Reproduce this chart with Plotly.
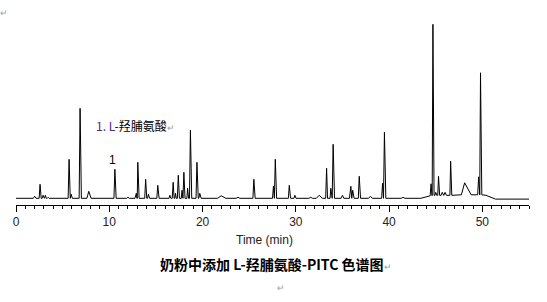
import plotly.graph_objects as go

# ---- data (time in min, signal in arbitrary units above baseline)
peak_time = [2.0, 2.58, 2.9, 3.15, 3.45, 5.69, 5.92, 6.87, 7.8, 10.6, 12.0, 12.9, 13.06,
             13.9, 14.2, 15.2, 16.5, 16.85, 17.1, 17.4, 17.8, 18.0, 18.4, 18.7, 19.4, 19.7,
             22.0, 23.8, 25.5, 27.6, 27.8, 29.3, 29.9, 31.6, 32.5, 33.3, 33.75, 34.0,
             35.0, 35.9, 36.1, 36.8, 38.0, 39.3, 39.5, 41.5, 44.5, 44.7, 45.0, 45.3,
             45.7, 46.0, 46.6, 48.1, 49.6, 49.8]
peak_height = [2, 14, 3, 3, 1, 39, 4, 90, 7, 29, 1, 5, 36,
               19, 4, 13, 3, 16, 5, 23, 8, 26, 10, 68, 36, 5,
               2.5, 1, 19, 12, 39, 13, 3, 1, 3, 30, 10, 54,
               3, 12, 8, 22, 2, 15, 66, 1, 12, 171, 3, 19,
               3, 3, 34, 12, 18, 122]
peak_left = [0.15, 0.1, 0.1, 0.1, 0.1, 0.1, 0.1, 0.1, 0.2, 0.1, 0.15, 0.15, 0.1,
             0.1, 0.1, 0.1, 0.1, 0.1, 0.08, 0.1, 0.08, 0.1, 0.08, 0.1, 0.1, 0.1,
             0.4, 0.2, 0.1, 0.1, 0.1, 0.1, 0.1, 0.2, 0.3, 0.1, 0.08, 0.1,
             0.15, 0.15, 0.1, 0.1, 0.2, 0.1, 0.1, 0.2, 0.1, 0.08, 0.08, 0.08,
             0.12, 0.12, 0.08, 0.35, 0.1, 0.08]
peak_right = [0.15, 0.12, 0.1, 0.1, 0.1, 0.12, 0.12, 0.14, 0.25, 0.14, 0.15, 0.1, 0.14,
              0.12, 0.12, 0.14, 0.1, 0.1, 0.08, 0.12, 0.1, 0.12, 0.1, 0.14, 0.14, 0.15,
              0.5, 0.2, 0.14, 0.1, 0.14, 0.14, 0.12, 0.2, 0.35, 0.1, 0.1, 0.15,
              0.15, 0.1, 0.15, 0.14, 0.2, 0.1, 0.15, 0.2, 0.1, 0.12, 0.1, 0.12,
              0.15, 0.15, 0.12, 0.7, 0.1, 0.14]
peak_base = [0, 0, 0, 0, 0, 0, 0, 0, 0, 0, 0, 0, 0,
             0, 0, 0, 0, 0, 0, 0, 0, 0, 0, 0, 0, 0,
             0, 0, 0, 0, 0, 0, 0, 0, 0, 0, 0, 0,
             0, 0, 0, 0, 0, 0, 0, 0, 2.5, 3, 3, 3,
             3, 3, 3, 3.5, 3.5, 3.5]
baseline_time = [0.0, 43.4, 44.3, 47.4, 49.2, 50.4, 51.4, 55.0]
baseline_value = [0.0, 0.0, 2.5, 3.0, 3.5, 3.0, -0.8, -0.8]

x_ticks = [0, 10, 20, 30, 40, 50]

# ---- assemble the trace from the peak table and baseline knots
pts = []
for t, v in zip(baseline_time, baseline_value):
    pts.append((t, v))
for t, h, wl, wr, b in zip(peak_time, peak_height, peak_left, peak_right, peak_base):
    pts.append((t - wl, b))
    pts.append((t, b + h))
    pts.append((t + wr, b))
pts.sort(key=lambda p: p[0])
xs = [p[0] for p in pts]
ys = [p[1] for p in pts]

W, H = 547, 302
ML, MR, MT, MB = 16, 18, 20, 97
pw, ph = W - ML - MR, H - MT - MB


def px(x):
    return (x - ML) / pw


def py(y):
    return (H - MB - y) / ph


fig = go.Figure()
fig.add_trace(go.Scatter(x=xs, y=ys, mode="lines",
                         line=dict(color="black", width=1), hoverinfo="skip",
                         showlegend=False))

font_lat = "Liberation Sans, Arial, sans-serif"
font_cjk = "Noto Sans CJK SC, Liberation Sans, sans-serif"

annos = [
    dict(x=px(94), y=py(126), xanchor="left", yanchor="middle",
         text="<span style='color:#4a2a7a'>1. L</span>-羟脯氨酸<span style='color:#a0a0a0;font-size:9px'>↵</span>",
         font=dict(family=font_cjk, size=12, color="black")),
    dict(x=px(112.5), y=py(160), xanchor="center", yanchor="middle", text="1",
         font=dict(family=font_lat, size=12, color="black")),
    dict(x=px(264), y=py(240), xanchor="center", yanchor="middle", text="Time (min)",
         font=dict(family=font_lat, size=12, color="#222")),
    dict(x=px(276), y=py(264), xanchor="center", yanchor="middle",
         text="<b>奶粉中添加 L-羟脯氨酸-PITC 色谱图</b><span style='color:#a0a0a0;font-size:9px'>↵</span>",
         font=dict(family=font_cjk, size=14, color="black")),
    dict(x=px(281), y=py(287), xanchor="center", yanchor="middle",
         text="↵", font=dict(family=font_cjk, size=9, color="#a0a0a0")),
    dict(x=px(4), y=py(13), xanchor="center", yanchor="middle",
         text="↵", font=dict(family=font_cjk, size=9, color="#a0a0a0")),
]
for a in annos:
    a.update(xref="paper", yref="paper", showarrow=False)

fig.update_layout(
    width=W, height=H,
    margin=dict(l=ML, r=MR, t=MT, b=MB, pad=0),
    paper_bgcolor="white", plot_bgcolor="white",
    annotations=annos,
    xaxis=dict(range=[0, 55], showgrid=False, zeroline=False,
               showline=True, linecolor="black", linewidth=1,
               ticks="outside", ticklen=6, tickwidth=1, tickcolor="black",
               tickvals=x_ticks, ticktext=[str(v) for v in x_ticks],
               tickfont=dict(family=font_lat, size=12, color="#222"),
               minor=dict(ticks="outside", ticklen=3, tickwidth=1, tickcolor="black", dtick=1),
               fixedrange=True),
    yaxis=dict(range=[-6.7, 178.3], visible=False, fixedrange=True),
)

fig.write_html("out.html", config=dict(displayModeBar=False, responsive=False))
